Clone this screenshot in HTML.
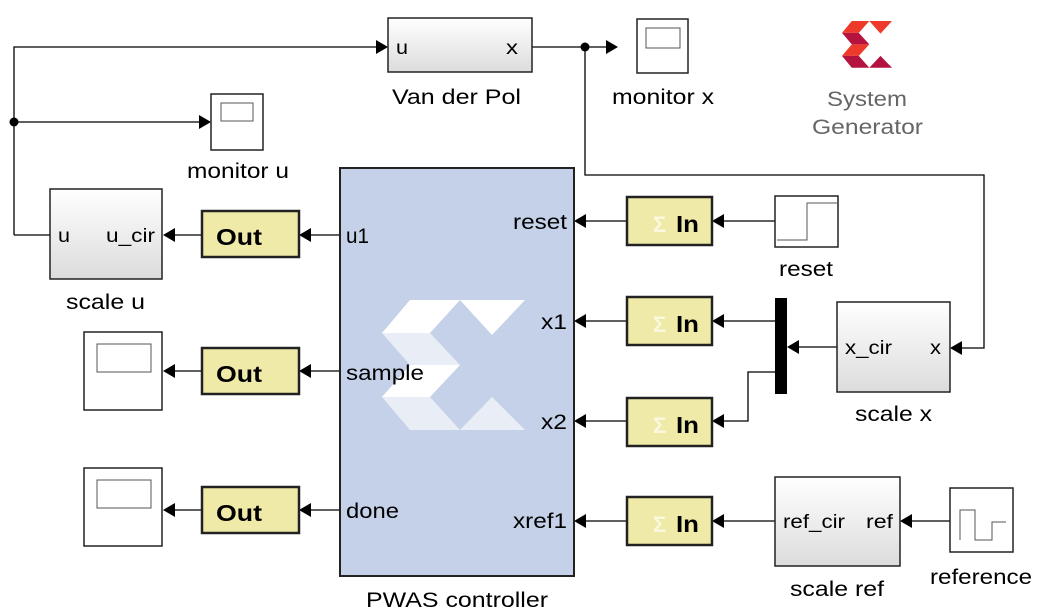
<!DOCTYPE html>
<html><head><meta charset="utf-8"><style>
html,body{margin:0;padding:0;background:#fff}
svg{display:block}
text{font-family:"Liberation Sans",Arial,sans-serif;fill:#000}
</style></head><body>
<svg width="1041" height="615" viewBox="0 0 1041 615" xmlns="http://www.w3.org/2000/svg">
<defs>
<linearGradient id="g" x1="0" y1="0" x2="0" y2="1"><stop offset="0" stop-color="#ffffff"/><stop offset="1" stop-color="#dcdcdc"/></linearGradient>
</defs>
<g fill="none" stroke="#000" stroke-width="1.3">
<polyline points="14,235 14,47 378,47"/>
<line x1="14" y1="122" x2="200" y2="122"/>
<line x1="14" y1="235" x2="50" y2="235"/>
<polyline points="532,47 608,47"/>
<polyline points="585,47 585,175 984,175 984,348 960,348"/>
<line x1="202" y1="235" x2="173" y2="235"/>
<line x1="340" y1="235" x2="309" y2="235"/>
<line x1="202" y1="371" x2="173" y2="371"/>
<line x1="340" y1="371" x2="309" y2="371"/>
<line x1="202" y1="510" x2="173" y2="510"/>
<line x1="340" y1="510" x2="309" y2="510"/>
<line x1="627" y1="221" x2="584" y2="221"/>
<line x1="627" y1="321" x2="584" y2="321"/>
<line x1="627" y1="421" x2="584" y2="421"/>
<line x1="627" y1="521" x2="584" y2="521"/>
<line x1="775" y1="221" x2="722" y2="221"/>
<line x1="775" y1="321" x2="722" y2="321"/>
<polyline points="775,372 748,372 748,421 722,421"/>
<line x1="837" y1="347" x2="797" y2="347"/>
<line x1="775" y1="521" x2="722" y2="521"/>
<line x1="950" y1="521" x2="910" y2="521"/>
</g>
<g fill="#000">
<circle cx="14" cy="122" r="4.5"/><circle cx="585" cy="47" r="4.5"/>
<polygon points="388,47 376,40 376,54"/>
<polygon points="211,122 199,115 199,129"/>
<polygon points="618,47 606,40 606,54"/>
<polygon points="950,348 962,341 962,355"/>
<polygon points="163,235 175,228 175,242"/>
<polygon points="299,235 311,228 311,242"/>
<polygon points="163,371 175,364 175,378"/>
<polygon points="299,371 311,364 311,378"/>
<polygon points="163,510 175,503 175,517"/>
<polygon points="299,510 311,503 311,517"/>
<polygon points="574,221 586,214 586,228"/>
<polygon points="574,321 586,314 586,328"/>
<polygon points="574,421 586,414 586,428"/>
<polygon points="574,521 586,514 586,528"/>
<polygon points="712,221 724,214 724,228"/>
<polygon points="712,321 724,314 724,328"/>
<polygon points="712,421 724,414 724,428"/>
<polygon points="787,347 799,340 799,354"/>
<polygon points="712,521 724,514 724,528"/>
<polygon points="900,521 912,514 912,528"/>
<rect x="775" y="298" width="12" height="96"/>
</g>
<g stroke="#222" stroke-width="1.5">
<rect x="388" y="18" width="144" height="54" fill="url(#g)"/>
<rect x="50" y="189" width="112" height="90" fill="url(#g)"/>
<rect x="837" y="302" width="113" height="90" fill="url(#g)"/>
<rect x="775" y="477" width="125" height="89" fill="url(#g)"/>
<rect x="211" y="94" width="52" height="56" fill="#fff"/>
<rect x="637" y="19" width="51" height="54" fill="#fff"/>
<rect x="84" y="332" width="78" height="78" fill="#fff"/>
<rect x="84" y="468" width="78" height="78" fill="#fff"/>
<rect x="775" y="196" width="63" height="51" fill="#fff"/>
<rect x="950" y="488" width="63" height="64" fill="#fff"/>
<rect x="340" y="168" width="234" height="408" fill="#c5d1e8" stroke-width="2"/>
</g>
<g fill="none" stroke="#555" stroke-width="1">
<rect x="221" y="103" width="32" height="18"/>
<rect x="646" y="28" width="34" height="20"/>
<rect x="97" y="344" width="54" height="28"/>
<rect x="97" y="480" width="54" height="28"/>
<polyline points="777,240 807,240 807,203 837,203"/>
<polyline points="960,540 960,510 975,510 975,540 992,540 992,522 1006,522"/>
</g>
<g stroke="#222" stroke-width="2.5" fill="#f0eaa8">
<rect x="202" y="211" width="97" height="46"/>
<rect x="202" y="348" width="97" height="46"/>
<rect x="202" y="487" width="97" height="46"/>
<rect x="627" y="197" width="85" height="48"/>
<rect x="627" y="297" width="85" height="48"/>
<rect x="627" y="398" width="85" height="48"/>
<rect x="627" y="497" width="85" height="48"/>
</g>
<g transform="translate(382,300)">
<polygon points="28,0 78,0 48,33 0,33" fill="#fff"/>
<polygon points="0,33 48,33 78,65 28,65" fill="#e8edf6"/>
<polygon points="28,65 78,65 48,97 0,97" fill="#fff"/>
<polygon points="0,97 48,97 78,130 28,130" fill="#e8edf6"/>
<polygon points="78,0 143,0 110,35" fill="#fff"/>
<polygon points="78,130 110,97 143,130" fill="#e8edf6"/>
</g>
<g transform="translate(842,21) scale(0.35,0.36)">
<polygon points="28,0 78,0 48,33 0,33" fill="#ee3a2a"/>
<polygon points="0,33 48,33 78,65 28,65" fill="#b3133e"/>
<polygon points="28,65 78,65 48,97 0,97" fill="#ee3a2a"/>
<polygon points="0,97 48,97 78,130 28,130" fill="#b3133e"/>
<polygon points="78,0 143,0 110,35" fill="#ee3a2a"/>
<polygon points="78,130 110,97 143,130" fill="#b3133e"/>
</g>
<g font-weight="bold" font-size="22">
<text x="653" y="232" style="fill:#fbf8e0">Σ</text><text x="653" y="332" style="fill:#fbf8e0">Σ</text><text x="653" y="433" style="fill:#fbf8e0">Σ</text><text x="653" y="532" style="fill:#fbf8e0">Σ</text>
</g>
<g font-size="23" font-weight="bold">
<text x="216" y="245" textLength="46" lengthAdjust="spacingAndGlyphs">Out</text>
<text x="216" y="382" textLength="46" lengthAdjust="spacingAndGlyphs">Out</text>
<text x="216" y="521" textLength="46" lengthAdjust="spacingAndGlyphs">Out</text>
<text x="676" y="232" textLength="23" lengthAdjust="spacingAndGlyphs">In</text>
<text x="676" y="332" textLength="23" lengthAdjust="spacingAndGlyphs">In</text>
<text x="676" y="433" textLength="23" lengthAdjust="spacingAndGlyphs">In</text>
<text x="676" y="532" textLength="23" lengthAdjust="spacingAndGlyphs">In</text>
</g>
<g font-size="19">
<text x="396" y="54" textLength="12" lengthAdjust="spacingAndGlyphs">u</text>
<text x="506" y="54" textLength="12" lengthAdjust="spacingAndGlyphs">x</text>
<text x="58" y="242" textLength="12" lengthAdjust="spacingAndGlyphs">u</text>
<text x="106" y="242" textLength="49" lengthAdjust="spacingAndGlyphs">u_cir</text>
<text x="845" y="354" textLength="47" lengthAdjust="spacingAndGlyphs">x_cir</text>
<text x="930" y="354" textLength="11" lengthAdjust="spacingAndGlyphs">x</text>
<text x="783" y="528" textLength="62" lengthAdjust="spacingAndGlyphs">ref_cir</text>
<text x="866" y="528" textLength="27" lengthAdjust="spacingAndGlyphs">ref</text>
</g>
<g font-size="21">
<text x="346" y="243" textLength="23" lengthAdjust="spacingAndGlyphs">u1</text>
<text x="346" y="380" textLength="78" lengthAdjust="spacingAndGlyphs">sample</text>
<text x="346" y="518" textLength="53" lengthAdjust="spacingAndGlyphs">done</text>
<text x="513" y="229" textLength="54" lengthAdjust="spacingAndGlyphs">reset</text>
<text x="541" y="329" textLength="26" lengthAdjust="spacingAndGlyphs">x1</text>
<text x="541" y="429" textLength="26" lengthAdjust="spacingAndGlyphs">x2</text>
<text x="513" y="528" textLength="54" lengthAdjust="spacingAndGlyphs">xref1</text>
<text x="392" y="104" textLength="129" lengthAdjust="spacingAndGlyphs">Van der Pol</text>
<text x="187" y="178" textLength="102" lengthAdjust="spacingAndGlyphs">monitor u</text>
<text x="612" y="104" textLength="102" lengthAdjust="spacingAndGlyphs">monitor x</text>
<text x="66" y="309" textLength="79" lengthAdjust="spacingAndGlyphs">scale u</text>
<text x="779" y="276" textLength="54" lengthAdjust="spacingAndGlyphs">reset</text>
<text x="855" y="421" textLength="77" lengthAdjust="spacingAndGlyphs">scale x</text>
<text x="790" y="596" textLength="94" lengthAdjust="spacingAndGlyphs">scale ref</text>
<text x="930" y="584" textLength="102" lengthAdjust="spacingAndGlyphs">reference</text>
<text x="366" y="607" textLength="182" lengthAdjust="spacingAndGlyphs">PWAS controller</text>
<text x="827" y="106" textLength="80" lengthAdjust="spacingAndGlyphs" style="fill:#666">System</text>
<text x="812" y="134" textLength="111" lengthAdjust="spacingAndGlyphs" style="fill:#666">Generator</text>
</g>
</svg>
</body></html>
